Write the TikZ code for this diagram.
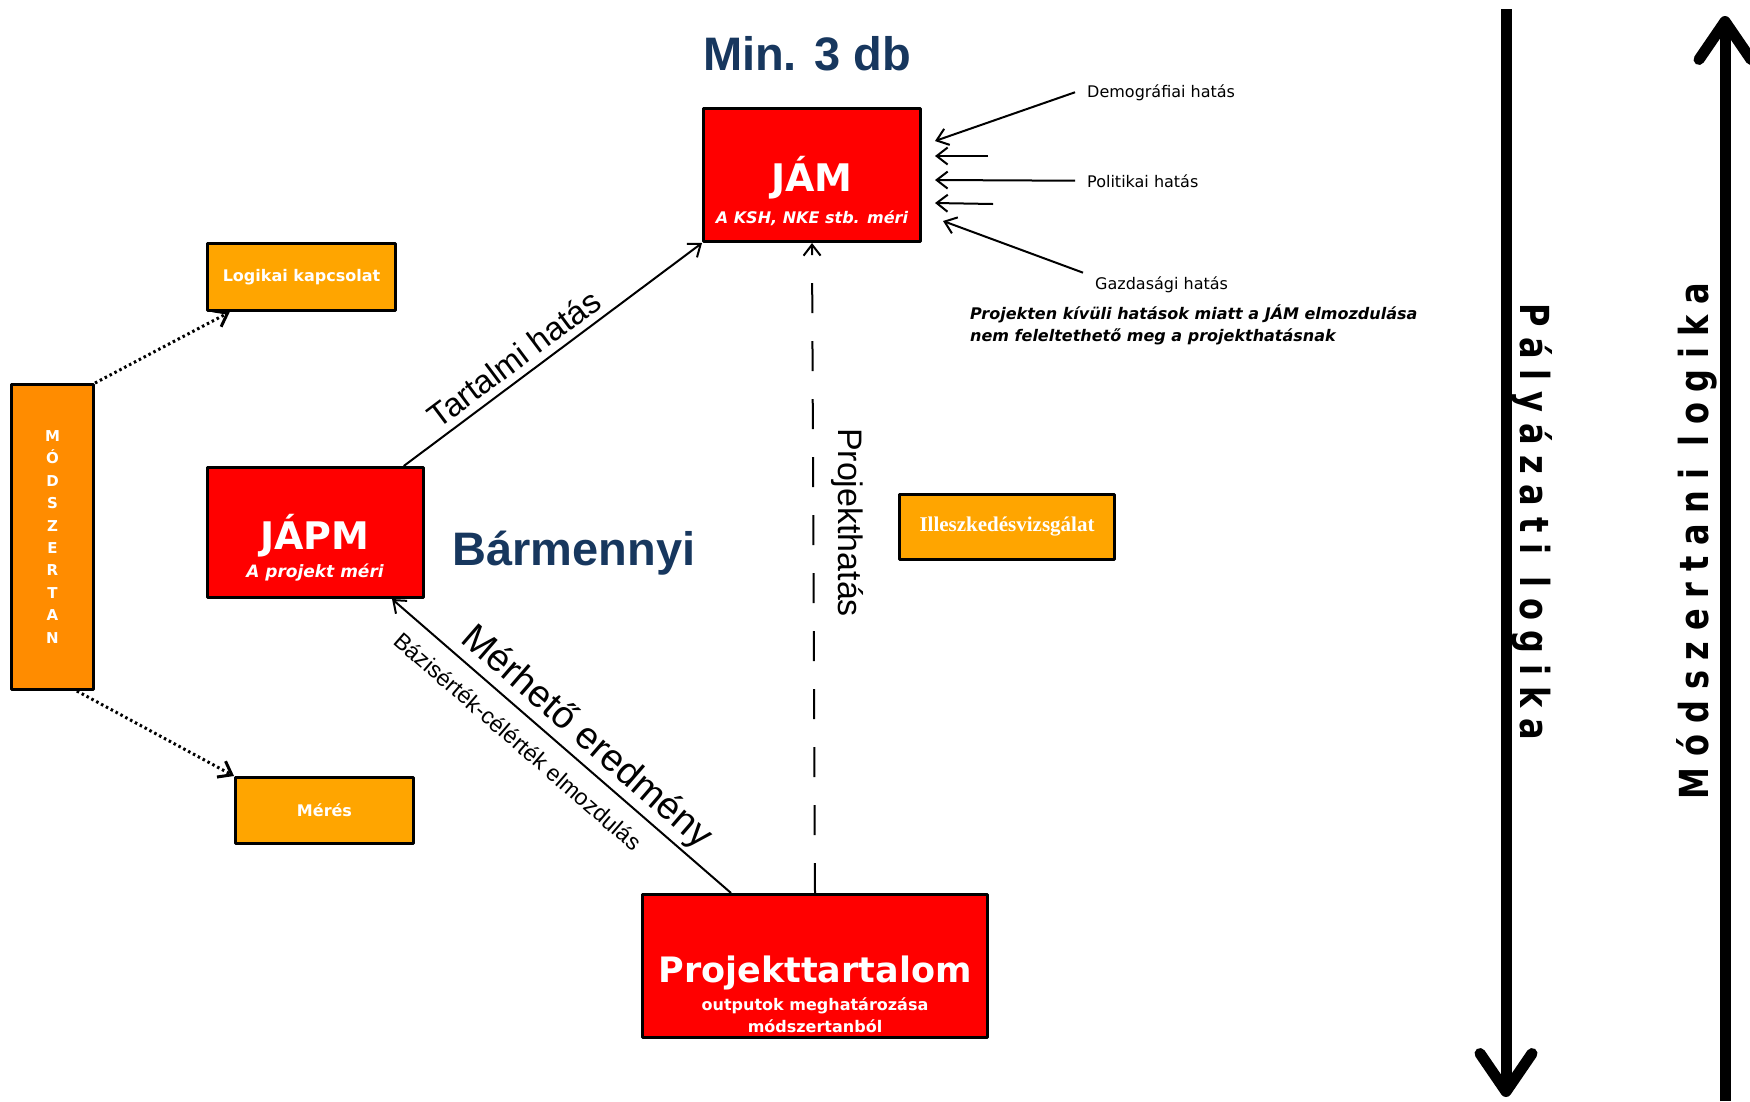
\documentclass[tikz,border=0pt]{standalone}
\usepackage{fontspec}
\setmainfont{DejaVu Sans}
\newfontfamily\arialfont{Liberation Sans}
\newfontfamily\timesfont{Liberation Serif}
\newfontfamily\logicfont[FakeStretch=0.8,LetterSpace=27]{DejaVu Sans}
\usepackage{tikz}
\usetikzlibrary{arrows.meta, positioning}
\definecolor{navy}{RGB}{23,55,94}
\definecolor{boxorange}{RGB}{255,165,0}
\definecolor{darkorange}{RGB}{255,140,0}

\begin{document}
\begin{tikzpicture}[x=1pt, y=-1pt, line join=round,
		redbox/.style={draw=black, line width=3pt, fill=red, inner sep=0pt},
		orangebox/.style={draw=black, line width=3pt, fill=boxorange, text=white, inner sep=0pt, font=\bfseries\fontsize{16}{18}\selectfont},
		boxtext/.style={text=white, anchor=base, inner sep=0pt},
		methletter/.style={text=white, anchor=base, inner sep=0pt, font=\bfseries\fontsize{15}{15}\selectfont},
		headline/.style={text=navy, anchor=base, font=\arialfont\bfseries\fontsize{47}{50}\selectfont},
		impact/.style={anchor=base west, inner xsep=12pt, font=\fontsize{16}{18}\selectfont},
		linklabel/.style={sloped, font=\arialfont\fontsize{#1}{#1}\selectfont},
		arr/.style={-{Straight Barb[length=11pt,width=17pt]}, line width=2pt},
		dots/.style={-{Straight Barb[length=12pt,width=18pt]}, line width=3pt, dash pattern=on 2.5pt off 3pt},
		bigarrow/.style={line width=11pt, -{Straight Barb[length=38pt,width=52pt,round]}},
		logictext/.style={anchor=base, inner sep=0pt, font=\logicfont\bfseries\fontsize{40}{40}\selectfont}
		]
		\useasboundingbox (0,0) rectangle (1750,1101);
		
		% boxes
		\node[redbox, minimum width=217pt, minimum height=133pt] (jam) at (812,175) {};
		\node[redbox, minimum width=216pt, minimum height=130pt] (japm) at (315.5,532.5) {};
		\node[redbox, minimum width=345pt, minimum height=143pt] (proj) at (815,966) {};
		\node[orangebox, minimum width=188pt, minimum height=67pt] (logic) at (301.5,277) {Logikai kapcsolat};
		\node[orangebox, minimum width=178pt, minimum height=66pt] (meres) at (324.5,810.5) {Mérés};
		\node[orangebox, minimum width=215pt, minimum height=65pt, font=\timesfont\bfseries\fontsize{21}{24}\selectfont] (fit) at (1007,527) {Illeszkedésvizsgálat};
		\node[orangebox, fill=darkorange, minimum width=82pt, minimum height=305pt] (method) at (52.5,537) {};
		\foreach \ch [count=\i] in {M,Ó,D,S,Z,E,R,T,A,N}
			\node[methletter] (letter\i) at (52.5,419+22.4*\i) {\ch};
		
		% box texts
		\node[boxtext, font=\bfseries\fontsize{38}{40}\selectfont] (jamname) at (812,191) {JÁM};
		\node[boxtext, font=\bfseries\itshape\fontsize{16}{18}\selectfont] (jamsub) at (812,223) {A KSH, NKE stb. méri};
		\node[boxtext, font=\bfseries\fontsize{38}{40}\selectfont] (japmname) at (315,549) {JÁPM};
		\node[boxtext, font=\bfseries\itshape\fontsize{17}{19}\selectfont] (japmsub) at (315,577) {A projekt méri};
		\node[boxtext, font=\bfseries\fontsize{35}{38}\selectfont] (projname) at (815,982) {Projekttartalom};
		\node[boxtext, font=\bfseries\fontsize{16}{18}\selectfont] (projsub) at (815,1010) {outputok meghatározása};
		\node[boxtext, font=\bfseries\fontsize{16}{18}\selectfont] (projsub2) at (815,1032) {módszertanból};
		
		% headings
		\node[headline] (min) at (807,70) {Min. 3 db};
		\node[headline] (any) at (574,565) {Bármennyi};
		
		% outside effects
		\node[impact] (demo) at (1075,97) {Demográfiai hatás};
		\node[impact] (poli) at (1075,187) {Politikai hatás};
		\node[impact] (gazd) at (1083,289) {Gazdasági hatás};
		\node[anchor=west, inner sep=0pt, align=left, font=\bfseries\itshape\fontsize{16}{22.5}\selectfont] (note) at (970,325) {Projekten kívüli hatások miatt a JÁM elmozdulása\\nem feleltethető meg a projekthatásnak};
		\coordinate (demoend) at (935,141);
		\coordinate (short1) at (988,156);
		\coordinate (short1end) at (935,156);
		\coordinate (poliend) at (935,180);
		\coordinate (short2) at (993,204);
		\coordinate (short2end) at (935,203);
		\coordinate (gazdend) at (943,221);
		\draw[arr] (demo.west) -- (demoend);
		\draw[arr] (short1) -- (short1end);
		\draw[arr] (poli.west) -- (poliend);
		\draw[arr] (short2) -- (short2end);
		\draw[arr] (gazd.north west) -- (gazdend);
		
		% links
		\draw[arr] (japm.37) -- node[linklabel=33, above, pos=0.41, inner sep=7pt] (contentlabel) {Tartalmi hatás} (jam.south west);
		\draw[arr] (proj.139) -- node[linklabel=38, above, pos=0.47] (resultlabel) {Mérhető eredmény}
			node[linklabel=23, below=12pt, pos=0.58] (baselabel) {Bázisérték-célérték elmozdulás} (japm.-41);
		\draw[arr, dash pattern=on 30pt off 28pt] (proj.north) -- node[pos=0.57, rotate=-90, anchor=south, inner ysep=17pt, font=\arialfont\fontsize{34}{34}\selectfont] (impactlabel) {Projekthatás} (jam.south);
		
		% method
		\draw[dots] (method.north east) -- (logic.206);
		\draw[dots] (method.-81) -- (meres.north west);
		
		% logic arrows
		\coordinate (calltop) at (1506,9);
		\coordinate (callbottom) at (1506,1097);
		\coordinate (methbottom) at (1725,1101);
		\coordinate (methtop) at (1725,16);
		\draw[bigarrow] (calltop) -- (callbottom);
		\draw[bigarrow] (methbottom) -- (methtop);
		\node[logictext, rotate=-90] (calllabel) at (1520,522) {Pályázati logika};
		\node[logictext, rotate=90] (methlabel) at (1708,541) {Módszertani logika};
\end{tikzpicture}
\end{document}
